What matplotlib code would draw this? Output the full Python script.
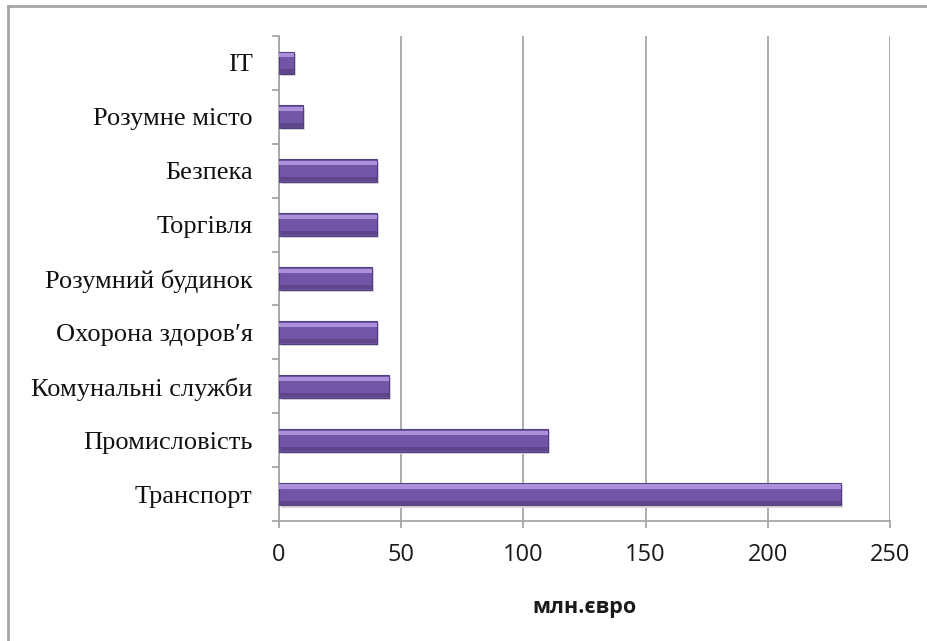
import numpy as np
import matplotlib.pyplot as plt
from matplotlib.lines import Line2D

categories = ['Транспорт', 'Промисловість', 'Комунальні служби', 'Охорона здоров′я',
              'Розумний будинок', 'Торгівля', 'Безпека', 'Розумне місто', 'IT']
values = [230, 110, 45, 40, 38, 40, 40, 10, 6]
xticks = [0, 50, 100, 150, 200, 250]

fig = plt.figure(figsize=(9.27, 6.41), dpi=100)
ax = fig.add_axes([0.301, 0.187, 0.659, 0.757])

# frame round the chart (left and top only visible)
fig.add_artist(Line2D([0.009, 0.009], [0.0, 0.99], transform=fig.transFigure, color='#a6a6a6', lw=2))
fig.add_artist(Line2D([0.009, 1.0], [0.99, 0.99], transform=fig.transFigure, color='#a6a6a6', lw=2))

y = np.arange(len(categories))
h = 0.42
# shadow, body, highlight
ax.barh(y - 0.04, values, height=h, left=0.8, color='#d6d6d6', zorder=2)
ax.barh(y, values, height=h, color='#7255a6', edgecolor='#54407e', linewidth=0.8, zorder=3)
ax.barh(y + h / 2 - 0.07, values, height=0.08, color='#ad90dc', zorder=4)
ax.barh(y - h / 2 + 0.05, values, height=0.08, color='#5d468a', zorder=4)

ax.set_xlim(0, 250)
ax.set_ylim(-0.5, len(categories) - 0.5)
ax.set_xticks(xticks)
ax.set_xticklabels([str(t) for t in xticks], fontsize=17, family=['Open Sans', 'DejaVu Sans'])
ax.set_yticks(y)
ax.set_yticklabels(categories, fontsize=19, family=['Liberation Serif', 'DejaVu Serif'])
ax.set_yticks(np.arange(-0.5, len(categories), 1), minor=True)
ax.tick_params(axis='y', which='major', length=0, pad=19, labelcolor='#111111')
ax.tick_params(axis='y', which='minor', length=5, color='#a6a6a6', width=1.3)
ax.tick_params(axis='x', length=5, color='#a6a6a6', width=1.3, pad=11, labelcolor='#1a1a1a')

ax.grid(axis='x', color='#a6a6a6', linewidth=1.3, zorder=0)
ax.set_axisbelow(True)
for s in ['top', 'right']:
    ax.spines[s].set_visible(False)
for s in ['left', 'bottom']:
    ax.spines[s].set_color('#a6a6a6')
    ax.spines[s].set_linewidth(1.3)

ax.set_xlabel('млн.євро', fontsize=15.5, fontweight='bold', family=['Open Sans', 'DejaVu Sans'],
              labelpad=21, color='#1a1a1a')

fig.savefig('out.png', dpi=100)
